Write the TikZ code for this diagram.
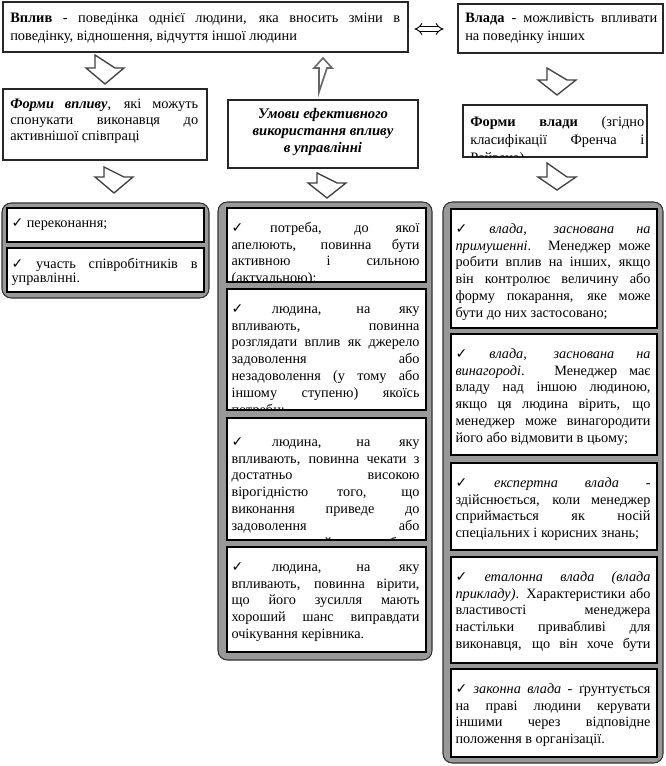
\documentclass[tikz,border=0pt]{standalone}
\usepackage{fontspec}
\setmainfont{Liberation Serif}
\newfontfamily\symfont{DejaVu Sans}
\usepackage{tikz}
\usetikzlibrary{arrows.meta, calc, fit}
\hyphenpenalty=10000
\pretolerance=-1
\tolerance=10000
\hbadness=10000
\hfuzz=20pt
\newcommand{\chk}{{\symfont\bfseries\fontsize{10.5}{11}\selectfont ✓}}
\newcommand{\lastjust}{{\parfillskip=0pt\par}}
% one framed list entry: [text options]{name}{x1}{y1}{x2}{y2}{text}
\newcommand{\listitem}[7][]{%
  \node[itembox, fit={(#3,#4) (#5,#6)}] (#2) {};
  \pgfmathsetmacro{\itemw}{(#5-#3-11)*0.75}
  \begin{scope}
    \clip ([shift={(0.6pt,-0.6pt)}]#2.north west) rectangle ([shift={(-0.6pt,0.6pt)}]#2.south east);
    \node[itemtext, text width=\itemw pt, #1] (#2txt) at ([shift={(5,13)}]#2.north west) {\strut #7};
  \end{scope}}
% hollow block arrow pointing down: {x}{top}{head base}{tip}
\newcommand{\blockdown}[4]{%
  \draw[blockarr] (#1-10,#2) -- (#1-10,#3) -- (#1-19,#3) -- (#1,#4) -- (#1+19,#3) -- (#1+10,#3) -- cycle;}

\begin{document}
\begin{tikzpicture}[
    x=0.75pt, y=-0.75pt,
    hdrbox/.style={draw=black!85, line width=2pt, fill=white, inner sep=0pt},
    grpbox/.style={draw=black!80, line width=0.8pt, fill=black!40, rounded corners=7pt, inner sep=0pt},
    itembox/.style={draw=black, line width=1.1pt, fill=white, inner sep=0pt},
    hdrtext/.style={anchor=north west, inner sep=0pt, align=justify, font=\fontsize{10.8}{13.9}\selectfont},
    itemtext/.style={anchor=north west, inner sep=0pt, align=justify, font=\fontsize{10.7}{12.6}\selectfont},
    blockarr/.style={draw=black!75, line width=1pt, fill=white, line join=miter},
    thinarr/.style={draw=black!60, line width=1.2pt, fill=white},
    dblarr/.style={double, double distance=2.4pt, line width=0.7pt, {Implies}-{Implies}}
]
    \useasboundingbox (0,0) rectangle (666,766);

    % Top row
    \node[hdrbox, fit={(3,2) (408,52)}] (vplyv) {};
    \node[hdrtext, text width=292.5pt] (vplyvtxt) at (10,9)
        {\strut\textbf{Вплив} - поведінка однієї людини, яка вносить зміни в \linebreak поведінку, відношення, відчуття іншої людини};
    \node[hdrbox, fit={(458,4) (663,53)}] (vlada) {};
    \node[hdrtext, text width=144pt] (vladatxt) at (465,9)
        {\strut\textbf{Влада} - можливість впливати \linebreak на поведінку інших};
    \draw[dblarr] ($(vplyv.east)+(5,2)$) -- ($(vlada.west)+(-13,0.5)$);

    % Second row
    \node[hdrbox, fit={(3,89) (207,160)}] (formy) {};
    \node[hdrtext, text width=141pt, font=\fontsize{10.8}{12}\selectfont] (formytxt) at (10,97)
        {\strut\textbf{\textit{Форми впливу}}, які можуть \linebreak спонукати виконавця до \linebreak активнішої співпраці};
    \node[hdrbox, fit={(228,100) (418,168)}] (umovy) {};
    \node[anchor=north, inner sep=0pt, align=center, font=\fontsize{11}{12.75}\bfseries\itshape] (umovytxt) at (323,106.6)
        {\strut Умови ефективного\\використання впливу\\в управлінні};
    \node[hdrbox, fit={(463,105) (647,157)}] (formyvl) {};
    \begin{scope}
        \clip ([shift={(1pt,-1pt)}]formyvl.north west) rectangle ([shift={(-1pt,1pt)}]formyvl.south east);
        \node[hdrtext, text width=130.5pt, font=\fontsize{10.8}{13.5}\selectfont] (formyvltxt) at (470,113.4)
            {\strut\textbf{Форми влади} (згідно \linebreak класифікації Френча і \linebreak Райвена)};
    \end{scope}

    % Block arrows
    \blockdown{105}{55}{68}{84}
    \blockdown{114}{167}{177}{193}
    \blockdown{327}{173}{183}{198}
    \blockdown{557}{68}{80}{95}
    \blockdown{557}{163}{177}{190}
    \draw[thinarr] (319,92) -- (319,68) -- (314,68) -- (323,58) -- (332,68) -- (327,68) -- cycle;

    % Left list
    \node[grpbox, fit={(2,203) (209,298)}] (leftgrp) {};
    \listitem[font=\fontsize{10.7}{10.5}\selectfont, yshift=2pt]{l1}{7}{208}{204}{242}{\chk{} переконання;}
    \listitem[font=\fontsize{10.7}{10.5}\selectfont, yshift=2pt]{l2}{7}{248}{204}{292}{\chk{} участь співробітників в \linebreak управлінні.}

    % Middle list
    \node[grpbox, fit={(218,202) (432,660)}] (midgrp) {};
    \listitem{m1}{227}{208}{426}{282}{\chk{} потреба, до якої \linebreak апелюють, повинна бути \linebreak активною і сильною \linebreak (актуальною);}
    \listitem{m2}{227}{289}{426}{410}{\chk{} людина, на яку \linebreak впливають, повинна \linebreak розглядати вплив як джерело \linebreak задоволення або \linebreak незадоволення (у тому або \linebreak іншому ступеню) якоїсь \linebreak потреби;}
    \listitem[yshift=-3pt]{m3}{227}{418}{426}{540}{\chk{} людина, на яку \linebreak впливають, повинна чекати з \linebreak достатньо високою \linebreak вірогідністю того, що \linebreak виконання приведе до \linebreak задоволення або \linebreak незадоволення його потреби;}
    \listitem{m4}{227}{547}{426}{652}{\chk{} людина, на яку \linebreak впливають, повинна вірити, \linebreak що його зусилля мають \linebreak хороший шанс виправдати \linebreak очікування керівника.}

    % Right list
    \node[grpbox, fit={(443,202) (663,763)}] (rightgrp) {};
    \listitem{r1}{451}{209}{657}{328}{\chk{} \textit{влада, заснована на \linebreak примушенні}. Менеджер може \linebreak робити вплив на інших, якщо \linebreak він контролює величину або \linebreak форму покарання, яке може \linebreak бути до них застосовано;}
    \listitem{r2}{451}{334}{657}{455}{\chk{} \textit{влада, заснована на \linebreak винагороді}. Менеджер має \linebreak владу над іншою людиною, \linebreak якщо ця людина вірить, що \linebreak менеджер може винагородити \linebreak його або відмовити в цьому;}
    \listitem{r3}{451}{463}{657}{550}{\chk{} \textit{експертна влада} - \linebreak здійснюється, коли менеджер \linebreak сприймається як носій \linebreak спеціальних і корисних знань;}
    \listitem{r4}{451}{557}{657}{663}{\chk{} \textit{еталонна влада (влада \linebreak прикладу)}. Характеристики або \linebreak властивості менеджера \linebreak настільки привабливі для \linebreak виконавця, що він хоче бути\lastjust}
    \listitem{r5}{451}{669}{657}{757}{\chk{} \textit{законна влада} - ґрунтується \linebreak на праві людини керувати \linebreak іншими через відповідне \linebreak положення в організації.}

\end{tikzpicture}
\end{document}
